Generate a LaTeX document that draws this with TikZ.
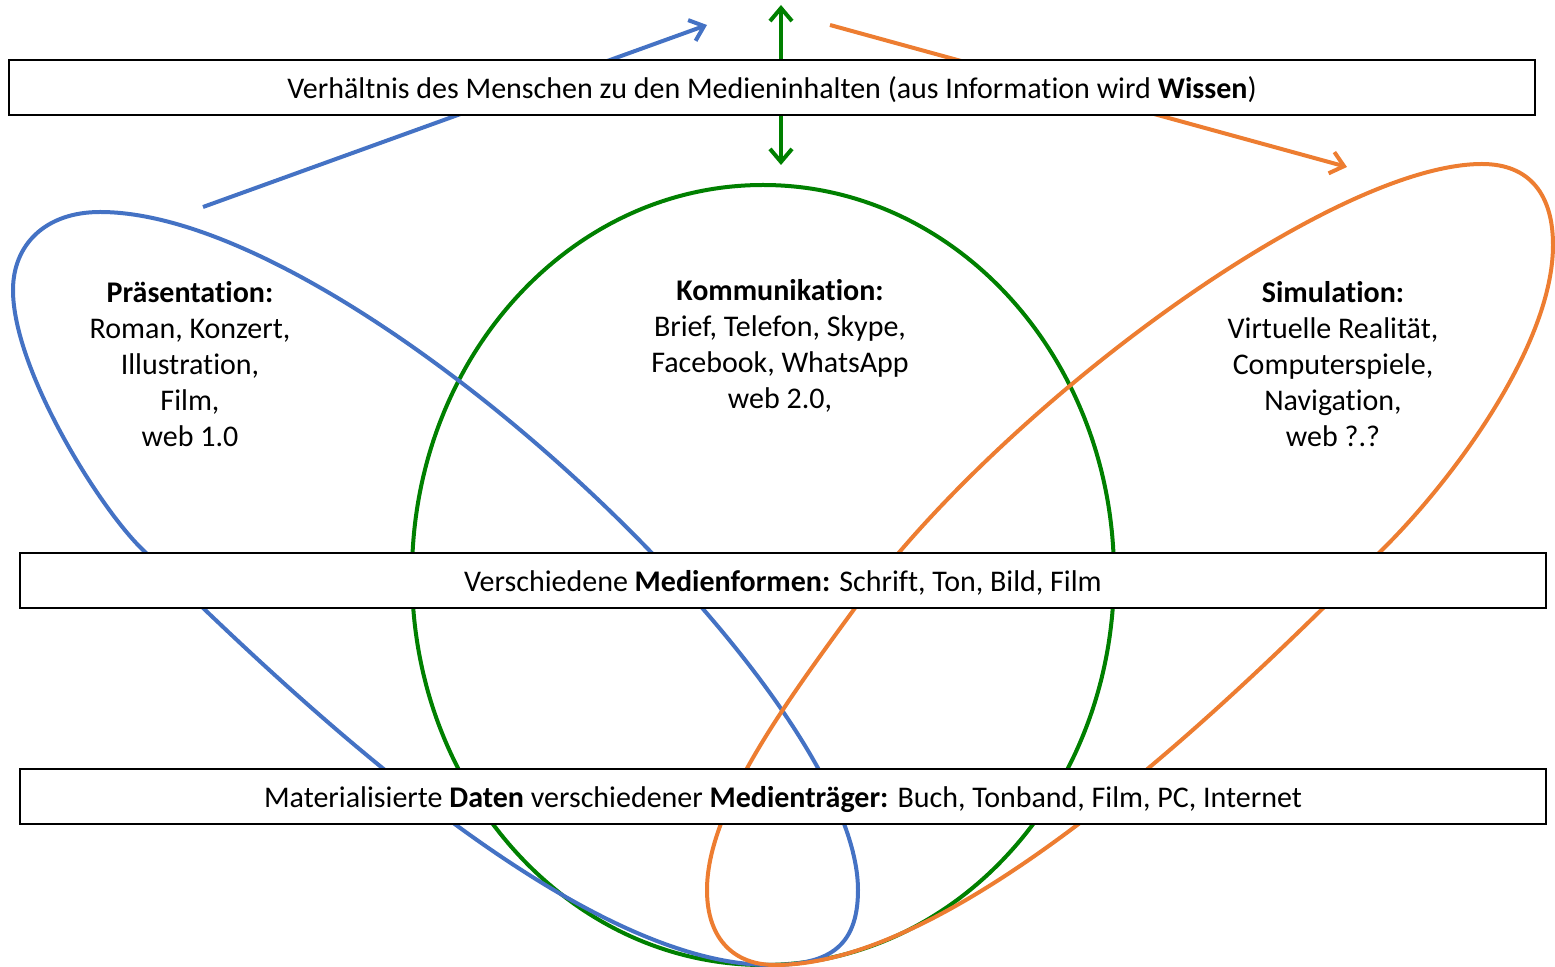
\documentclass[tikz,border=0pt]{standalone}
\usepackage{fontspec}
\setmainfont{Carlito}[Ligatures={NoCommon,NoRare,NoContextual}]
\usetikzlibrary{arrows.meta}
\definecolor{cblue}{HTML}{4472C4}
\definecolor{corange}{HTML}{ED7D31}
\definecolor{cgreen}{RGB}{0,128,0}
\tikzset{
  loopline/.style={line width=2pt},
  arr/.style={line width=2pt,-{Straight Barb[length=6.5pt,width=11pt]}},
  darr/.style={line width=2pt,{Straight Barb[length=6.5pt,width=11pt]}-{Straight Barb[length=6.5pt,width=11pt]}},
  box/.style={draw=black,line width=1.2pt,fill=white,minimum width=763pt,minimum height=27.5pt,inner sep=0pt,text depth=0pt,font=\fontsize{15pt}{18pt}\selectfont},
  label/.style={align=center,inner sep=0pt,font=\fontsize{15pt}{18pt}\selectfont}
}
\begin{document}
\begin{tikzpicture}[x=0.5pt,y=-0.5pt]
\useasboundingbox (0,0) rectangle (1555,967);
% loops
\draw[loopline,cgreen] (763,575) ellipse [x radius=351, y radius=390];
\draw[loopline,cblue] (100,212) .. controls (350,212) and (858,690) .. (858,890)
  .. controls (858,950) and (825,965) .. (770,965)
  .. controls (560,965) and (251,654) .. (143,550)
  .. controls (100,509) and (13,370) .. (13,290)
  .. controls (13,245) and (45,212) .. cycle;
\draw[loopline,corange] (1482,164) .. controls (1530,164) and (1553,195) .. (1553,245)
  .. controls (1553,345) and (1453,480) .. (1382,550)
  .. controls (1275,655) and (975,965) .. (775,965)
  .. controls (735,965) and (707,940) .. (707,890)
  .. controls (707,810) and (784,705) .. (855,608)
  .. controls (1002.5,405.5) and (1332,164) .. cycle;
% arrows
\coordinate (bS) at (203,207);
\coordinate (bE) at (707,25);
\coordinate (gS) at (781,5);
\coordinate (gE) at (781,165);
\coordinate (oS) at (830,25);
\coordinate (oE) at (1347,167);
\draw[arr,cblue] (bS) -- (bE);
\draw[darr,cgreen] (gS) -- (gE);
\draw[arr,corange] (oS) -- (oE);
% boxes
\node[box] (top) at (772,87.5) {Verhältnis des Menschen zu den Medieninhalten (aus Information wird \textbf{Wissen})};
\node[box] (mid) at (783,580.5) {Verschiedene \textbf{Medienformen:} Schrift, Ton, Bild, Film};
\node[box] (bot) at (783,796.5) {Materialisierte \textbf{Daten} verschiedener \textbf{Medienträger:} Buch, Tonband, Film, PC, Internet};
% labels
\node[label] (praes) at (190,364) {\textbf{Präsentation:}\\Roman, Konzert,\\Illustration,\\Film,\\web 1.0};
\node[label] (komm) at (780,346) {\textbf{Kommunikation:}\\Brief, Telefon, Skype,\\Facebook, WhatsApp\\web 2.0,};
\node[label] (sim) at (1333,364) {\textbf{Simulation:}\\Virtuelle Realität,\\Computerspiele,\\Navigation,\\web ?.?};
\end{tikzpicture}
\end{document}
